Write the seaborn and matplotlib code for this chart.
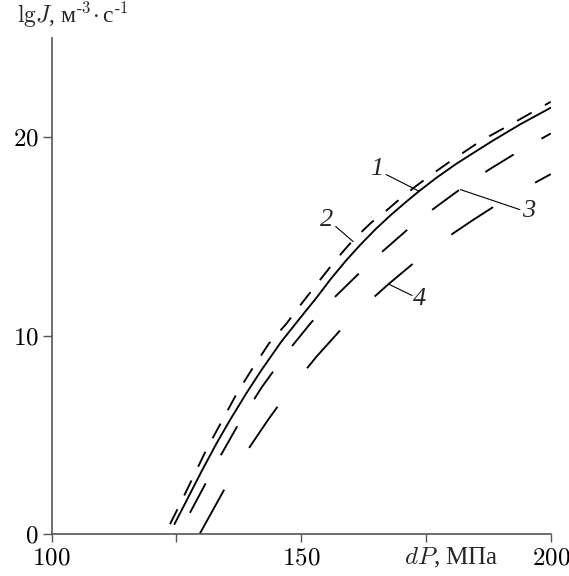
"""lgJ versus dP for four model curves."""

import matplotlib
matplotlib.use("Agg")
import matplotlib.pyplot as plt
import seaborn as sns

# curve 1 (solid)
dp_1 = [124.6, 127.0, 130.0, 133.0, 135.7, 139.0, 142.0, 146.0, 149.7, 153.0, 156.0, 159.0,
        162.0, 165.0, 168.0, 171.0, 173.6, 177.0, 181.0, 185.0, 188.4, 194.0, 200.0]
lgj_1 = [0.5, 1.68, 3.15, 4.56, 5.74, 7.1, 8.26, 9.7, 10.87, 11.9, 12.89, 13.8,
         14.63, 15.4, 16.1, 16.75, 17.29, 17.95, 18.66, 19.3, 19.84, 20.68, 21.5]

# curve 2 (short dashes)
dp_2 = [123.7, 125.3, 128.2, 131.0, 134.2, 137.0, 140.0, 143.5, 147.0, 150.0, 153.5, 157.0,
        160.4, 164.0, 167.0, 170.0, 173.0, 176.5, 180.0, 186.0, 193.0, 200.0]
lgj_2 = [0.5, 1.3, 2.8, 4.26, 5.74, 7.05, 8.26, 9.6, 10.6, 11.6, 12.73, 13.85,
         14.83, 15.7, 16.3, 16.95, 17.55, 18.2, 18.82, 19.83, 20.8, 21.8]

# curve 3 (medium dashes)
dp_3 = [127.7, 130.9, 133.9, 137.3, 142.0, 147.0, 152.0, 157.0, 161.8, 166.5, 171.5,
        176.6, 181.9, 187.7, 193.4, 200.0]
lgj_3 = [1.07, 2.58, 3.98, 5.49, 7.37, 9.12, 10.67, 12.02, 13.2, 14.3, 15.4,
         16.42, 17.4, 18.39, 19.27, 20.2]

# curve 4 (long dashes)
dp_4 = [129.7, 134.7, 139.7, 143.3, 148.0, 153.0, 158.0, 161.5, 164.8, 167.7, 172.6,
        176.5, 180.3, 184.5, 188.7, 193.0, 197.3, 200.0]
lgj_4 = [0.03, 2.3, 4.4, 5.74, 7.38, 8.93, 10.33, 11.2, 12.0, 12.65, 13.68,
         14.43, 15.14, 15.85, 16.53, 17.17, 17.78, 18.15]

x_ticks = [100, 125, 150, 175, 200]
x_tick_labels = ["$100$", "", "$150$", "", "$200$"]
y_ticks = [0, 10, 20]
y_tick_labels = ["$0$", "$10$", "$20$"]

curve_names = ["1", "2", "3", "4"]
label_text_pos = [(165.1, 18.39), (155.0, 15.85), (195.5, 16.27), (173.8, 11.87)]
label_line_start = [(167.0, 18.13), (156.9, 15.51), (193.8, 16.36), (172.2, 12.03)]
label_line_end = [(173.6, 17.29), (160.4, 14.75), (181.9, 17.37), (167.7, 12.58)]


def main():
    sns.set_style("ticks")
    plt.rcParams["font.family"] = ["Liberation Serif", "DejaVu Serif"]
    plt.rcParams["mathtext.fontset"] = "cm"
    plt.rcParams["lines.scale_dashes"] = False

    fig = plt.figure(figsize=(5.69, 5.76), dpi=100)
    ax = fig.add_axes([0.0909, 0.0729, 0.968 - 0.0909, 0.9335 - 0.0729])

    lw = 1.35
    sns.lineplot(x=dp_1, y=lgj_1, ax=ax, color="black", lw=lw, estimator=None, sort=False)
    sns.lineplot(x=dp_2, y=lgj_2, ax=ax, color="black", lw=lw, estimator=None, sort=False,
                 linestyle=(0, (12.0, 11.0)))
    sns.lineplot(x=dp_3, y=lgj_3, ax=ax, color="black", lw=lw, estimator=None, sort=False,
                 linestyle=(0, (24.0, 23.0)))
    sns.lineplot(x=dp_4, y=lgj_4, ax=ax, color="black", lw=lw, estimator=None, sort=False,
                 linestyle=(0, (36.0, 35.0)))

    # curve numbers with leader lines
    for name, tpos, p0, p1 in zip(curve_names, label_text_pos, label_line_start, label_line_end):
        ax.plot([p0[0], p1[0]], [p0[1], p1[1]], color="black", lw=0.8)
        ax.text(tpos[0], tpos[1], name, fontsize=19, style="italic",
                ha="center", va="center")

    ax.set_xlim(100, 200)
    ax.set_ylim(0, 25)
    ax.set_xticks(x_ticks)
    ax.set_xticklabels(x_tick_labels)
    ax.set_yticks(y_ticks)
    ax.set_yticklabels(y_tick_labels)
    ax.set_xlabel("")
    ax.set_ylabel("")

    sns.despine(ax=ax)
    for side in ["left", "bottom"]:
        ax.spines[side].set_color("#555555")
        ax.spines[side].set_linewidth(1.2)
    ax.tick_params(axis="both", direction="out", color="#555555", width=1.0,
                   labelsize=18, labelcolor="black")
    ax.tick_params(axis="x", length=5.5, pad=4)
    ax.tick_params(axis="y", length=6.5, pad=3)

    ax.text(180.1, -1.2, "$dP$, МПа", fontsize=18, ha="center", va="center")
    fig.text(17 / 569, 1 - 23 / 576, r"$\mathrm{lg}J$, м$^{\text{-}3}\!\cdot$с$^{\text{-}1}$",
             fontsize=17, ha="left", va="baseline")

    fig.savefig("out.png", dpi=100)
    plt.close(fig)


if __name__ == "__main__":
    main()
